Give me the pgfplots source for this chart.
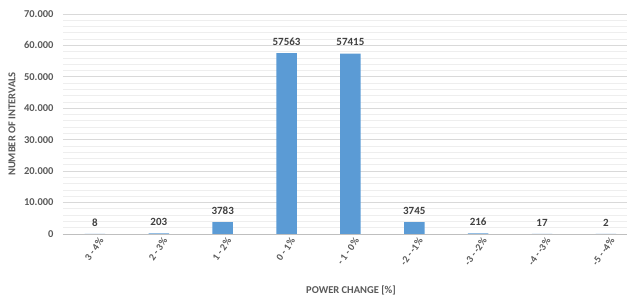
\documentclass[border=0pt]{standalone}
\usepackage{pgfplots}
\pgfplotsset{compat=1.18}
\usepackage{fontspec}
\setmainfont{Carlito}
\definecolor{barblue}{HTML}{5B9BD5}
\definecolor{ticktext}{HTML}{595959}
\definecolor{datatext}{HTML}{404040}
\definecolor{majgrid}{HTML}{D9D9D9}
\definecolor{mingrid}{HTML}{EEEEEE}
\definecolor{axisgray}{HTML}{BFBFBF}
\begin{document}
\begin{tikzpicture}
\useasboundingbox (-63pt,-62pt) rectangle (564pt,234pt);
\begin{axis}[
  at={(0,0)}, anchor=south west,
  scale only axis,
  width=564pt, height=220pt,
  xmin=-0.5, xmax=8.33,
  ymin=0, ymax=70000,
  ybar, bar width=20.5pt,
  axis line style={draw=none},
  xtick=data,
  xticklabels={3 - 4\%, 2 - 3\%, 1 - 2\%, 0 - 1\%, - 1 - 0\%, -2 - -1\%, -3 - -2\%, -4 - -3\%, -5 - -4\%},
  ytick={0,10000,...,70000},
  minor y tick num=4,
  minor tick length=0pt,
  major tick length=0pt,
  tick style={draw=none},
  ymajorgrids, yminorgrids,
  major grid style={majgrid, line width=0.8pt},
  minor grid style={mingrid, line width=0.8pt},
  extra y ticks={0},
  extra y tick labels={},
  extra y tick style={grid=major, major grid style={axisgray, line width=0.9pt}},
  scaled y ticks=false,
  /pgf/number format/assume math mode=true,
  /pgf/number format/1000 sep={.},
  yticklabel style={font=\fontsize{10.5}{12}\selectfont\bfseries, text=ticktext, xshift=-6pt},
  xticklabel style={font=\fontsize{10}{12}\selectfont\bfseries, text=ticktext, rotate=55, anchor=east, xshift=3pt, yshift=-8pt},
  ylabel={NUMBER OF INTERVALS},
  ylabel style={font=\fontsize{10.5}{12}\selectfont\bfseries, text=ticktext, at={(axis description cs:0,0.5)}, anchor=center, rotate=0, yshift=51pt},
  xlabel={POWER CHANGE [\%]},
  xlabel style={font=\fontsize{10.5}{12}\selectfont\bfseries, text=ticktext, at={(axis description cs:0.5,0)}, anchor=center, xshift=6pt, yshift=-56pt},
  nodes near coords,
  nodes near coords style={font=\fontsize{11}{13}\selectfont\bfseries, text=datatext, yshift=4pt, /pgf/number format/.cd, fixed, 1000 sep={}},
  clip=false,
]
\addplot[fill=barblue, draw=none] coordinates {
  (0,8) (1,203) (2,3783) (3,57563) (4,57415) (5,3745) (6,216) (7,17) (8,2)
};
\end{axis}
\end{tikzpicture}
\end{document}
